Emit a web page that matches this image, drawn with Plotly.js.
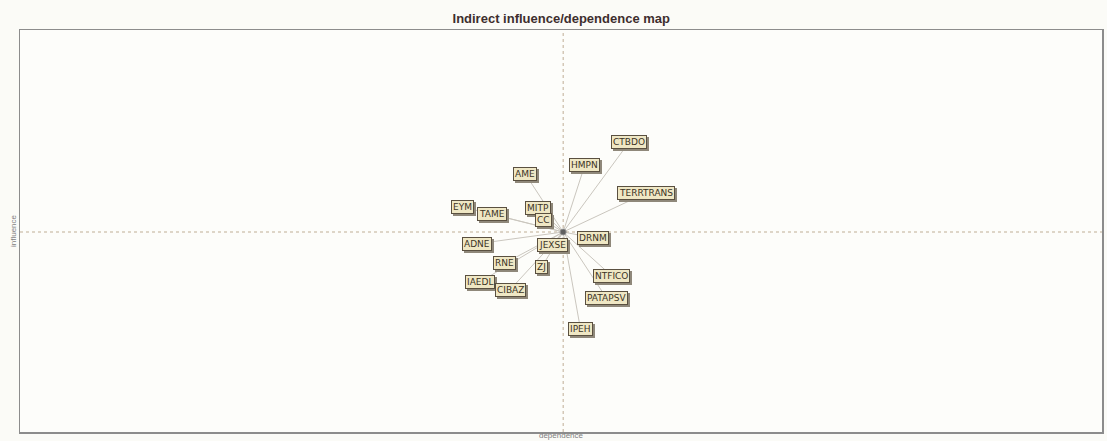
<!DOCTYPE html>
<html><head><meta charset="utf-8">
<script src="https://cdn.plot.ly/plotly-3.0.1.min.js"></script>
<style>html,body{margin:0;padding:0;background:#fbfbf7;}#chart{width:1107px;height:441px;}</style>
</head><body><div id="chart"></div>
<script>
var variables = ["CTBDO","HMPN","AME","TERRTRANS","EYM","TAME","MITP","CC","DRNM","ADNE","JEXSE","RNE","ZJ","NTFICO","IAEDL","CIBAZ","PATAPSV","IPEH"];
var dependence = [56.3,52.2,46.7,57.9,40.9,43.6,47.9,48.4,53.0,42.2,49.2,44.8,48.2,54.7,42.5,45.3,54.2,51.8];
var influence  = [72.1,66.4,64.2,59.5,56.0,54.2,55.7,52.7,48.3,46.8,46.5,42.0,41.0,38.8,37.3,35.4,33.3,25.6];
var centerDependence = 50.2;
var centerInfluence = 49.75;

var traces = [];
var lx = [], ly = [];
for (var i = 0; i < variables.length; i++) {
  lx.push(centerDependence, dependence[i], null);
  ly.push(centerInfluence, influence[i], null);
}
traces.push({x: lx, y: ly, mode: 'lines', line: {color: '#cac6be', width: 1}, hoverinfo: 'skip', showlegend: false});
traces.push({x: [centerDependence], y: [centerInfluence], mode: 'markers', marker: {color: '#606060', size: 6, line:{color:'#909090',width:1}}, showlegend: false});

var annotations = [];
for (var j = 0; j < variables.length; j++) {
  annotations.push({x: dependence[j], y: influence[j], xref: 'x', yref: 'y', text: variables[j], showarrow: false,
    xshift: 2, yshift: -2, font: {family: 'DejaVu Sans', size: 9, color: 'rgba(0,0,0,0)'},
    bgcolor: '#8f887a', bordercolor: '#8f887a', borderwidth: 1, borderpad: 1});
  annotations.push({x: dependence[j], y: influence[j], xref: 'x', yref: 'y', text: variables[j], showarrow: false,
    font: {family: 'DejaVu Sans', size: 9, color: '#3c3424'},
    bgcolor: '#efe7c4', bordercolor: '#5a5040', borderwidth: 1, borderpad: 1});
}

var layout = {
  width: 1107, height: 441,
  margin: {l: 20, r: 5, t: 30, b: 9},
  paper_bgcolor: '#fbfbf7', plot_bgcolor: '#fdfdfa',
  title: {text: 'Indirect influence/dependence map', x: 0.507, xanchor: 'center', y: 0.959, yanchor: 'middle',
    font: {family: 'Liberation Sans Narrow, Arial Narrow, sans-serif', size: 13, color: '#3e2e2e', weight: 'bold'}},
  xaxis: {range: [0, 100], showgrid: false, zeroline: false, showticklabels: false, ticks: '',
    showline: true, mirror: true, linecolor: '#8c8c8c', linewidth: 1.5, fixedrange: true,
    title: {text: 'dependence', standoff: 0, font: {family: 'Liberation Sans Narrow, Arial', size: 8, color: '#808080'}}},
  yaxis: {range: [0, 100], showgrid: false, zeroline: false, showticklabels: false, ticks: '',
    showline: true, mirror: true, linecolor: '#8c8c8c', linewidth: 1.5, fixedrange: true,
    title: {text: 'influence', standoff: 0, font: {family: 'Liberation Sans Narrow, Arial', size: 8, color: '#808080'}}},
  shapes: [
    {type: 'line', xref: 'x', yref: 'paper', x0: centerDependence, x1: centerDependence, y0: 0, y1: 1, line: {color: '#bfae95', width: 1, dash: 'dot'}, layer: 'below'},
    {type: 'line', xref: 'paper', yref: 'y', x0: 0, x1: 1, y0: centerInfluence, y1: centerInfluence, line: {color: '#bfae95', width: 1, dash: 'dot'}, layer: 'below'}
  ],
  annotations: annotations,
  showlegend: false
};
Plotly.newPlot('chart', traces, layout, {displayModeBar: false, staticPlot: true});
</script></body></html>
